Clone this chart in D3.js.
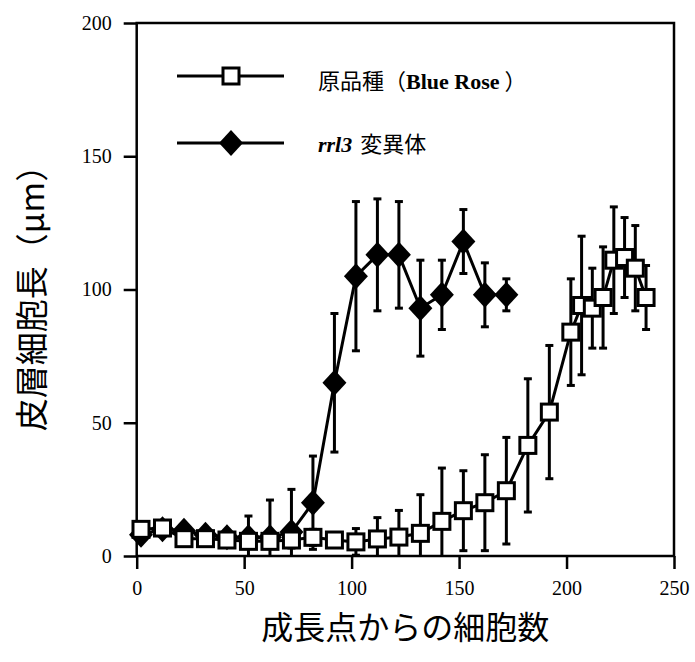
<!DOCTYPE html>
<html>
<head>
<meta charset="utf-8">
<script src="https://cdn.jsdelivr.net/npm/d3@7"></script>
<style>
body { margin: 0; background: #fff; }
.tick text { font-family: "Liberation Serif", serif; font-size: 21px; fill: #000; }
.axis path, .axis line { stroke: #000; stroke-width: 2.5px; }
.cjk { font-family: "Noto Sans CJK JP", sans-serif; }
.serif { font-family: "Liberation Serif", serif; }
</style>
</head>
<body>
<script>
// original (Blue Rose)
var origX = [2,12,22,32,42,52,62,72,82,92,102,112,122,132,142,152,162,172,182,192,202,207,212,217,222,227,232,237]
var origY = [10,10.5,6.5,6.5,6,5.5,5.5,6,7,6,5.3,6.4,7.1,8.5,13,17,20,24.5,41.5,54,84,94,93,97,111,112,108,97]
var origErr = [2,2,2,2,2,2,2,3,3,2,5,8,10,14.5,20,15,18,20,25,25,20,26,15,19,20,15,16,12]
// rrl3 mutant
var mutX = [2,12,22,32,42,52,62,72,82,92,102,112,122,132,142,152,162,172]
var mutY = [8,10,9.5,8,7,7,7,9,20,65,105,113,113,93,98,118,98,98]
var mutErr = [2,2,2,2,2,8,14,16,17.5,26,28,21,20,18,13,12,12,6]
var xTicks = [0,50,100,150,200,250]
var yTicks = [0,50,100,150,200]

var margin = {left:136.7, top:23, right:21, bottom:106}
var W = 695, H = 662
var width = W - margin.left - margin.right
var height = H - margin.top - margin.bottom

var x = d3.scaleLinear().domain([0,250]).range([0,width])
var y = d3.scaleLinear().domain([0,200]).range([height,0])

var svg = d3.select("body").append("svg").attr("width",W).attr("height",H)
var g = svg.append("g").attr("transform","translate("+margin.left+","+margin.top+")")

// frame
g.append("rect")
    .attr("width",width).attr("height",height)
    .attr("fill","none").attr("stroke","#000").attr("stroke-width",2.5)

g.append("g").attr("class","axis")
    .call(d3.axisLeft(y).tickValues(yTicks).tickSize(13).tickPadding(12))
g.append("g").attr("class","axis").attr("transform","translate(0,"+height+")")
    .call(d3.axisBottom(x).tickValues(xTicks).tickSize(13).tickPadding(12))
g.selectAll(".axis .domain").remove()
g.selectAll(".axis .tick text").style("font-size","20px")

function series(xs, ys, es) {
    return xs.map(function(v,i){ return {x:v, y:ys[i], e:es[i]} })
}
var mut = series(mutX, mutY, mutErr)
var orig = series(origX, origY, origErr)

function errBars(data) {
    var eb = g.append("g").attr("stroke","#000").attr("stroke-width",3)
    eb.selectAll("line.v").data(data).enter().append("line")
        .attr("x1",function(d){return x(d.x)}).attr("x2",function(d){return x(d.x)})
        .attr("y1",function(d){return y(d.y+d.e)}).attr("y2",function(d){return y(Math.max(0,d.y-d.e))})
    eb.selectAll("line.t").data(data).enter().append("line")
        .attr("x1",function(d){return x(d.x)-4}).attr("x2",function(d){return x(d.x)+4})
        .attr("y1",function(d){return y(d.y+d.e)}).attr("y2",function(d){return y(d.y+d.e)})
    eb.selectAll("line.b").data(data.filter(function(d){return d.y-d.e>0})).enter().append("line")
        .attr("x1",function(d){return x(d.x)-4}).attr("x2",function(d){return x(d.x)+4})
        .attr("y1",function(d){return y(d.y-d.e)}).attr("y2",function(d){return y(d.y-d.e)})
}
errBars(mut)
errBars(orig)

var line = d3.line().x(function(d){return x(d.x)}).y(function(d){return y(d.y)})
g.append("path").datum(mut).attr("d",line).attr("fill","none").attr("stroke","#000").attr("stroke-width",3)
g.append("path").datum(orig).attr("d",line).attr("fill","none").attr("stroke","#000").attr("stroke-width",3)

var diamond = "M0,-13L12,0L0,13L-12,0Z"
function diamonds(sel, data) {
    sel.selectAll("path.dm").data(data).enter().append("path")
        .attr("d",diamond)
        .attr("transform",function(d){return "translate("+x(d.x)+","+y(d.y)+")"})
        .attr("fill","#000")
}
function squares(sel, data) {
    sel.selectAll("rect.sq").data(data).enter().append("rect")
        .attr("x",function(d){return x(d.x)-8}).attr("y",function(d){return y(d.y)-8})
        .attr("width",16).attr("height",16)
        .attr("fill","#fff").attr("stroke","#000").attr("stroke-width",3)
}
diamonds(g, mut)
squares(g, orig)

// legend
var leg = svg.append("g")
leg.append("line").attr("x1",177).attr("x2",284).attr("y1",76).attr("y2",76).attr("stroke","#000").attr("stroke-width",3)
leg.append("rect").attr("x",223).attr("y",68).attr("width",16).attr("height",16)
    .attr("fill","#fff").attr("stroke","#000").attr("stroke-width",3)
leg.append("line").attr("x1",177).attr("x2",284).attr("y1",143).attr("y2",143).attr("stroke","#000").attr("stroke-width",3)
leg.append("path").attr("d",diamond).attr("transform","translate(231,143)").attr("fill","#000")

var t1 = leg.append("text").attr("x",318).attr("y",89).attr("font-size",22)
t1.append("tspan").attr("class","cjk").text("原品種（")
t1.append("tspan").attr("class","serif").attr("font-weight","bold").text("Blue Rose")
t1.append("tspan").attr("class","cjk").text(" ）")

var t2 = leg.append("text").attr("x",318).attr("y",152).attr("font-size",22)
t2.append("tspan").attr("class","serif").attr("font-style","italic").attr("font-weight","bold").text("rrl3")
t2.append("tspan").attr("class","cjk").attr("dx",8).text("変異体")

// axis titles
svg.append("text").attr("class","cjk")
    .attr("x", margin.left + x(125)).attr("y",639)
    .attr("text-anchor","middle").attr("font-size",32)
    .text("成長点からの細胞数")
svg.append("text").attr("class","cjk")
    .attr("transform","translate(44,290) rotate(-90)")
    .attr("text-anchor","middle").attr("font-size",33)
    .text("皮層細胞長（μm）")
</script>
</body>
</html>
